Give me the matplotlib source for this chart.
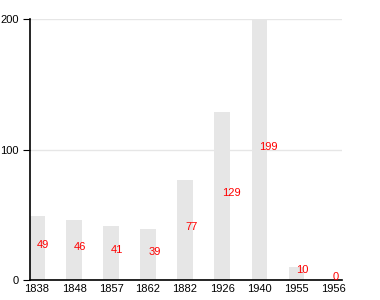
import matplotlib
matplotlib.use('Agg')
import matplotlib.pyplot as plt

years = ['1838', '1848', '1857', '1862', '1882', '1926', '1940', '1955', '1956']
counts = [49, 46, 41, 39, 77, 129, 199, 10, 0]

plt.rcParams['font.family'] = ['Liberation Sans', 'DejaVu Sans']
plt.rcParams['font.size'] = 8

fig = plt.figure(figsize=(3.8, 3.0), dpi=100)
ax = fig.add_axes([30/380, 20/300, 312/380, 261/300])

x = range(len(years))
ax.bar(x, counts, width=0.41, color='#e6e6e6', zorder=2)
for i, v in enumerate(counts):
    ax.text(i, v / 2, str(v), color='red', ha='left', va='baseline', fontsize=8, zorder=3)

ax.set_xlim(-0.19, 8.24)
ax.set_ylim(0, 200)
ax.set_yticks([0, 100, 200])
ax.set_xticks(list(x))
ax.set_xticklabels(years)
ax.yaxis.grid(True, color='#e6e6e6', linewidth=1, zorder=0)
ax.set_axisbelow(True)
for s in ['top', 'right']:
    ax.spines[s].set_visible(False)
ax.spines['left'].set_linewidth(1.2)
ax.spines['bottom'].set_linewidth(1.2)
ax.tick_params(axis='x', length=0, pad=3)
ax.tick_params(axis='y', length=5, pad=3)

fig.savefig('out.png', dpi=100)
